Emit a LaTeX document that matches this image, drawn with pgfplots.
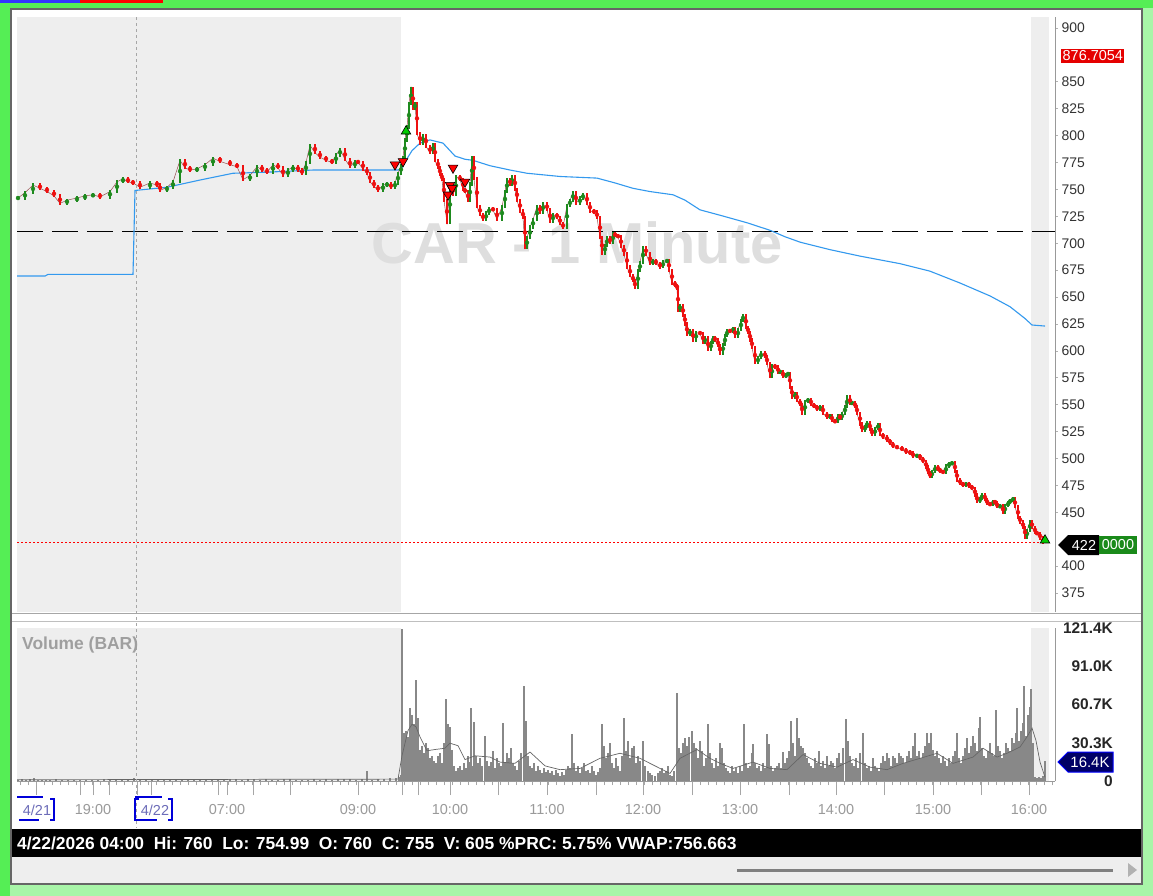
\documentclass[border=0pt]{standalone}
\usepackage{pgfplots}
\pgfplotsset{compat=1.18}
\usepackage{pgfplotstable}
\usepackage{fontspec}
\setmainfont{Liberation Sans}
\definecolor{bgreen}{HTML}{55EE55}
\definecolor{pgreen}{HTML}{A8F5A8}
\definecolor{cup}{HTML}{1E8A1E}
\definecolor{cdn}{HTML}{EE1111}
\definecolor{vwap}{HTML}{3399EE}
\definecolor{shd}{HTML}{EEEEEE}
\definecolor{volc}{HTML}{888888}
\definecolor{lbl}{HTML}{333333}
\definecolor{xlbl}{HTML}{9A9A9A}
\definecolor{lastg}{HTML}{1A8A1A}

\pgfplotstableread{
x o c
18 742 742
25 742 747
33 747 754
40 754 751
47 751 748
54 748 744
60 744 737
67 737 740
77 740 742
85 742 744
93 744 745
100 745 743
110 743 748
117 748 757
123 757 760
128 760 757
133 757 756
140 756 752
150 752 756
157 756 754
160 754 749
167 749 752
173 752 757
180 757 777
185 777 770
190 770 768
197 768 769
205 769 773
213 773 779
220 779 776
230 776 773
237 773 771
243 771 759
250 759 763
257 763 771
262 771 768
267 768 766
273 766 773
278 773 770
283 770 763
288 763 768
293 768 771
298 771 768
302 768 765
306 765 775
310 775 791
315 791 784
320 784 780
326 780 777
332 777 775
336 775 782
340 782 787
345 787 778
350 778 771
355 771 776
358 776 775
363 775 769
367 769 765
370 765 757
374 757 753
378 753 749
383 749 754
387 754 755
391 755 752
395 752 756
398 756 765
401 765 772
403 772 780
405 780 796
407 796 808
409 808 830
411 830 844
413 844 825
415 825 830
417 830 802
420 802 793
423 793 800
426 800 790
430 790 784
433 784 792
435 792 777
438 777 770
440 770 764
442 764 759
444 759 740
447 740 719
450 719 753
453 753 745
456 745 762
460 762 759
463 759 750
465 750 748
468 748 740
470 740 755
472 755 780
474 780 760
477 760 734
480 734 727
483 727 722
486 722 728
489 728 732
493 732 731
497 731 722
502 722 734
505 734 748
507 748 759
510 759 755
512 755 762
515 762 750
517 750 740
520 740 730
523 730 724
525 724 696
527 696 705
530 705 715
533 715 722
537 722 734
540 734 729
543 729 737
547 737 731
550 731 720
553 720 727
557 727 724
560 724 718
563 718 715
567 715 735
570 735 740
573 740 747
576 747 737
580 737 742
583 742 745
587 745 737
590 737 730
594 730 729
597 729 724
600 724 705
602 705 691
605 691 698
607 698 705
610 705 701
613 701 709
615 709 707
618 707 706
621 706 697
624 697 690
627 690 678
630 678 670
633 670 665
635 665 659
638 659 675
640 675 682
643 682 696
646 696 690
650 690 681
653 681 684
656 684 681
660 681 678
663 678 683
667 683 684
669 684 675
672 675 663
675 663 661
677 661 658
678 658 638
680 638 642
683 642 633
685 633 625
687 625 615
690 615 619
693 619 610
696 610 617
700 617 616
703 616 608
705 608 612
708 612 601
711 601 608
713 608 612
715 612 610
718 610 605
720 605 598
723 598 606
725 606 614
727 614 619
730 619 618
733 618 621
735 621 613
738 613 620
741 620 628
743 628 633
746 633 622
748 622 617
750 617 610
752 610 603
755 603 589
758 589 594
761 594 598
765 598 595
767 595 588
770 588 576
772 576 586
775 586 585
778 585 580
780 580 581
783 581 576
786 576 578
788 578 579
790 579 566
792 566 557
795 557 560
797 560 554
800 554 550
802 550 542
805 542 553
808 553 555
811 555 550
814 550 548
817 548 546
820 546 548
823 548 542
827 542 538
830 538 540
832 540 535
835 535 534
838 534 540
840 540 537
842 537 542
845 542 548
847 548 557
850 557 551
852 551 552
855 552 548
857 548 542
860 542 532
862 532 526
865 526 530
867 530 533
870 533 527
872 527 522
875 522 528
878 528 531
880 531 522
883 522 520
887 520 517
890 517 514
893 514 511
897 511 510
902 510 508
906 508 506
910 506 505
913 505 502
917 502 503
920 503 500
923 500 497
926 497 492
928 492 487
930 487 483
932 483 488
935 488 492
938 492 490
940 490 488
943 488 487
946 487 493
949 493 495
952 495 496
955 496 488
957 488 480
960 480 477
963 477 475
966 475 477
969 477 474
972 474 472
975 472 466
977 466 460
980 460 463
982 463 466
985 466 462
987 462 458
990 458 457
993 457 460
995 460 459
997 459 455
1000 455 456
1003 456 450
1005 450 456
1008 456 459
1010 459 461
1013 461 463
1015 463 455
1018 455 445
1020 445 441
1023 441 436
1025 436 427
1027 427 433
1030 433 441
1032 441 436
1035 436 431
1037 431 430
1040 430 426
1043 426 422
}\price

\pgfplotstableread{
x v
18 1.0
22 1.5
26 0.8
30 1.2
34 2.0
38 1.0
42 0.6
46 1.0
50 0.8
56 1.2
62 0.8
68 1.0
74 0.6
80 1.0
86 0.8
92 1.0
98 0.8
104 1.2
110 1.0
116 1.6
122 1.4
128 1.0
134 2.5
140 1.8
146 1.2
152 1.0
158 1.4
164 1.0
170 0.8
176 1.2
182 0.8
188 1.0
194 0.6
200 1.0
206 0.8
212 1.0
218 0.8
224 1.4
230 1.6
236 1.2
242 1.0
248 1.2
254 1.4
260 1.0
266 1.2
272 0.8
278 1.0
284 1.2
290 1.6
296 1.0
302 0.8
308 1.0
314 1.2
320 1.0
326 1.4
332 1.0
338 1.2
344 1.6
350 1.2
356 1.0
362 1.4
367 8.0
372 1.0
378 1.8
384 1.4
390 2.0
396 2.5
399 3.0
401 5
402 121
404 38
406 40
408 35
410 58
412 52
414 45
416 80
418 50
420 25
422 28
424 22
426 30
428 26
430 18
432 20
434 16
436 14
438 20
440 22
442 14
444 30
446 65
448 45
450 43
452 25
454 12
456 8
458 10
460 12
462 9
464 14
466 10
468 20
470 15
471 58
473 12
474 47
476 20
478 14
480 18
482 12
485 36
487 16
489 12
491 15
493 24
495 10
497 18
499 14
501 12
503 46
505 15
507 22
509 18
511 26
513 14
515 12
517 9
519 16
521 22
524 75
526 48
528 20
530 12
532 10
534 14
536 8
538 12
540 9
542 6
544 10
546 7
548 9
550 6
552 8
554 5
556 9
558 6
560 4
562 7
564 5
566 9
568 12
570 10
572 37
574 14
576 8
578 12
580 6
582 10
584 14
586 8
588 9
590 6
592 12
594 8
596 5
598 7
600 10
602 45
604 28
606 18
608 22
610 30
612 14
614 10
616 18
618 12
620 8
622 20
624 50
626 24
628 32
630 18
632 26
634 28
636 14
638 20
640 16
643 32
645 12
648 8
650 6
652 5
655 4
658 6
660 8
662 10
664 6
666 8
668 12
670 5
672 4
674 8
677 70
679 26
681 22
683 30
685 34
687 28
689 35
692 40
694 30
696 26
698 18
700 32
702 24
704 12
706 18
708 45
710 22
712 14
714 10
716 18
718 12
720 30
722 26
724 14
726 10
728 8
730 6
732 12
734 8
736 10
738 6
740 12
742 8
744 45
746 14
748 10
750 12
752 22
753 29
755 14
757 10
759 12
761 8
763 14
765 10
767 37
769 29
771 12
773 8
775 10
777 12
779 14
781 10
783 23
785 14
787 18
789 24
791 48
793 30
795 20
797 50
799 34
801 28
803 26
805 22
807 18
809 14
811 12
813 10
815 18
817 14
819 24
821 12
823 16
825 10
827 20
829 12
831 16
833 14
835 10
837 18
839 22
841 14
843 26
846 49
848 32
850 20
852 14
854 12
856 18
858 10
860 22
863 38
865 14
867 10
869 12
871 8
873 18
875 12
877 10
879 8
881 14
883 20
885 16
887 22
889 18
891 12
893 20
895 18
897 14
899 22
901 20
903 18
905 14
907 20
909 24
911 18
913 28
915 38
917 20
919 24
921 18
923 22
925 28
927 38
929 30
931 38
933 25
935 20
937 24
939 18
941 14
943 20
945 16
947 12
949 18
951 14
953 20
955 24
957 38
959 18
961 14
963 20
965 26
967 34
969 22
971 28
973 36
975 30
977 24
979 42
980 51
982 26
984 20
986 18
988 24
990 30
992 22
994 20
996 56
998 28
1000 24
1002 18
1004 22
1006 30
1008 26
1010 24
1012 34
1014 30
1016 38
1017 58
1019 32
1021 40
1023 46
1024 75
1026 36
1028 52
1030 59
1031 73
1033 30
1035 3
1037 2
1039 3
1041 2
1043 4
1045 16
}\vol

\begin{document}
\begin{tikzpicture}
\useasboundingbox (0,0) rectangle (1153bp,-896bp);
\begin{scope}[x=1bp,y=-1bp]
\fill[pgreen] (0,0) rectangle (1153,896);
\fill[bgreen] (0,0) rectangle (10,896);
\fill[bgreen] (0,0) rectangle (1153,8);
\fill[blue!80] (0,0) rectangle (80,3);
\fill[red] (80,0) rectangle (163,3);
\filldraw[fill=shd, draw=gray!80!black, line width=2bp] (11,9) rectangle (1142,884);
\fill[white] (12,10) rectangle (1141,829);
\draw[gray!70, line width=1bp] (12,613) -- (1141,613);
\draw[gray!50, line width=1bp] (12,621) -- (1141,621);
\fill[black] (12,829) rectangle (1141,857);
\node[anchor=west, text=white, inner sep=0pt, font=\bfseries\fontsize{17.5}{18}\selectfont] at (17,843) {4/22/2026 04:00\ \ Hi: 760\ \ Lo: 754.99\ \ O: 760\ \ C: 755\ \ V: 605 \%PRC: 5.75\% VWAP:756.663};
\draw[gray, line width=3bp] (737,870) -- (1113,870);
\fill[gray!60] (1128,863) -- (1137,870) -- (1128,877) -- cycle;
\end{scope}

% ---------------- price panel ----------------
\begin{axis}[
  at={(17bp,-612bp)}, anchor=south west,
  scale only axis, width=1038bp, height=595bp,
  xmin=17, xmax=1055, ymin=357.3, ymax=910.2,
  axis x line=none, axis y line*=right,
  axis line style={-, draw=gray!80, line width=0.8bp},
  ytick={375,400,450,475,500,525,550,575,600,625,650,675,700,725,750,775,800,825,850,900},
  /pgf/number format/assume math mode=true,
  yticklabel style={font=\fontsize{14}{15}\selectfont, text=lbl, anchor=west, inner sep=0pt, xshift=4bp},
  tick style={gray!60, line width=0.6bp}, major tick length=2.5bp, tick align=outside,
]
\fill[shd] (axis cs:17,357.3) rectangle (axis cs:401,910.2);
\fill[shd] (axis cs:1031,357.3) rectangle (axis cs:1049,910.2);
\node[text=black!13, font=\bfseries\fontsize{58}{60}\selectfont] at (axis cs:577,700) {CAR - 1 Minute};
\addplot[black, line width=1.4bp, dash pattern=on 26bp off 9bp] coordinates {(17,711) (1055,711)};
\addplot[draw=red, line width=1bp, dash pattern=on 1.5bp off 2.5bp] coordinates {(17,422) (1043,422)};
\addplot[vwap, line width=1.1bp] coordinates {
(17,669.5) (45,669.5) (48,671) (133,671) (135,749) (167,752) (200,758.7) (233,765) (267,766) (313,768) (398,768)
(402,770) (406,777) (412,786) (420,793) (430,796) (443,793) (450,786) (455,781) (465,778) (473,777) (490,772)
(510,768) (527,765) (560,762) (597,760.5) (615,756) (633,751) (650,748) (673,745) (685,740) (700,731) (720,726)
(747,719) (770,712) (785,706) (800,701) (830,694) (860,688) (900,681) (930,674) (960,663) (990,651) (1010,641)
(1025,630) (1032,624) (1045,623)};
\addplot[black!60!red!70, line width=0.5bp] table[x=x, y=c]{\price};
\addplot[cup, only marks, mark=none,
  restrict expr to domain={\thisrow{c}-\thisrow{o}}{0:1000},
  error bars/.cd, y dir=both, y explicit, error mark=none,
  error bar style={line width=1.8bp, cup}]
  table[x=x, y expr={(\thisrow{o}+\thisrow{c})/2}, y error expr={abs(\thisrow{c}-\thisrow{o})/2+1.5}]{\price};
\addplot[cdn, only marks, mark=none,
  restrict expr to domain={\thisrow{c}-\thisrow{o}}{-1000:-0.01},
  error bars/.cd, y dir=both, y explicit, error mark=none,
  error bar style={line width=1.8bp, cdn}]
  table[x=x, y expr={(\thisrow{o}+\thisrow{c})/2}, y error expr={abs(\thisrow{c}-\thisrow{o})/2+1.5}]{\price};
\addplot[only marks, mark=triangle*, mark size=5.5bp, mark options={fill=red, draw=black, line width=0.6bp, rotate=180}]
  coordinates {(395,773) (403,776) (453,770) (450,754) (452,751) (448,745) (465,757)};
\addplot[only marks, mark=triangle*, mark size=5.5bp, mark options={fill=green!80!black, draw=black, line width=0.6bp}]
  coordinates {(406,804) (1045,424)};
\end{axis}

% ---------------- volume panel ----------------
\begin{axis}[
  at={(17bp,-781bp)}, anchor=south west,
  scale only axis, width=1038bp, height=153bp,
  xmin=17, xmax=1055, ymin=0, ymax=121.4,
  axis x line*=bottom, axis y line*=right,
  axis line style={-, draw=gray!80, line width=0.8bp},
  ytick={0,30.3,60.7,91.0,121.4},
  yticklabels={0,30.3K,60.7K,91.0K,121.4K},
  yticklabel style={font=\bfseries\fontsize{15.5}{16}\selectfont, text=black!85, anchor=east, inner sep=0pt, xshift=44bp},
  ytick style={draw=none},
  xtick={36,80,93,109,137,151,218,227,253,290,358,402,418,450,498,547,596,643,692,740,789,836,884,933,981,1029},
  xticklabels={,,19:00,,,,,07:00,,,09:00,,,10:00,,11:00,,12:00,,13:00,,14:00,,15:00,,16:00},
  minor xtick={20,28,...,1052},
  xticklabel style={font=\fontsize{14.5}{15}\selectfont, text=xlbl, anchor=north, inner sep=0pt, yshift=-9.5bp},
  extra x ticks={37,155},
  extra x tick labels={4/21,4/22},
  extra x tick style={major tick length=0pt, xticklabel style={text=xlbl!70!blue, yshift=-14.5bp}},
  x tick style={gray!70, line width=0.6bp},
  major tick length=14bp, minor tick length=4bp, tick align=outside,
]
\fill[shd] (axis cs:17,0) rectangle (axis cs:401,121.4);
\fill[shd] (axis cs:1031,0) rectangle (axis cs:1049,121.4);
\addplot[ycomb, volc, line width=1.8bp] table[x=x, y=v]{\vol};
\addplot[black!60, line width=0.7bp] coordinates {
(17,1) (398,1.5) (402,20) (408,40) (412,45) (416,43) (420,35) (427,24) (435,25) (445,26) (450,30) (458,28)
(465,17) (475,20) (490,19) (500,15) (515,14) (530,23) (545,12) (560,9) (580,10) (600,18) (620,22) (640,18)
(655,12) (670,6) (680,18) (697,25) (710,18) (720,14) (733,10) (753,15) (770,10) (787,9) (803,21) (820,14)
(837,11) (853,17) (870,11) (887,9) (903,14) (920,18) (937,22) (953,14) (973,19) (983,26) (997,19) (1007,22)
(1020,27) (1027,35) (1032,42) (1036,32) (1040,15) (1045,3)};
\end{axis}

% ---------------- annotations ----------------
\begin{scope}[x=1bp,y=-1bp]
\draw[gray!70, line width=0.8bp, dash pattern=on 3bp off 3bp] (136,17) -- (136,828);
\node[anchor=west, text=gray!75, inner sep=0pt, font=\bfseries\fontsize{17.5}{18}\selectfont] at (22,645) {Volume (BAR)};
\node[anchor=west, fill=red!90!black, text=white, inner sep=1.5bp, font=\fontsize{14.5}{15}\selectfont] at (1061,56) {876.7054};
\fill[black] (1058,545) -- (1068,535) -- (1099,535) -- (1099,555) -- (1068,555) -- cycle;
\node[text=white, inner sep=0pt, font=\fontsize{14.5}{15}\selectfont] at (1084,545) {422};
\fill[lastg] (1099,536) rectangle (1137,554);
\node[text=white, inner sep=0pt, font=\fontsize{14.5}{15}\selectfont] at (1118,545) {0000};
\filldraw[fill=blue!40!black, draw=blue, line width=1bp] (1058,762) -- (1068,752) -- (1113,752) -- (1113,772) -- (1068,772) -- cycle;
\node[text=white, inner sep=0pt, font=\fontsize{15}{16}\selectfont] at (1090,762) {16.4K};
\draw[blue!85!black, line width=1.2bp] (17,797) -- (43,797) (19,820) -- (39,820) (50,799) -- (54,799) -- (54,820) -- (50,820);
\draw[blue!85!black, line width=1.2bp] (139,799) -- (135,799) -- (135,820) -- (139,820) (135,797) -- (162,797) (135,820) -- (157,820) (168,799) -- (172,799) -- (172,820) -- (168,820);
\end{scope}
\end{tikzpicture}
\end{document}
